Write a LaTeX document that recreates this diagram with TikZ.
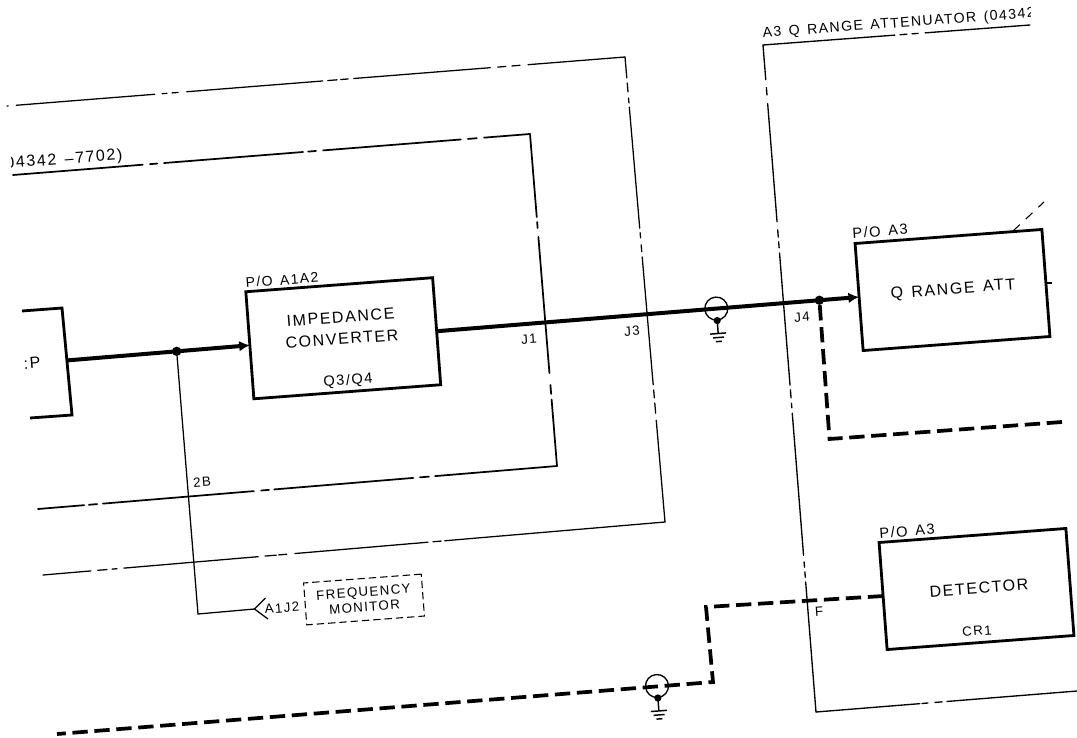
\documentclass[tikz,border=0pt]{standalone}
\usepackage{fontspec}
\setmainfont[LetterSpace=10,WordSpace=1.4]{Liberation Sans}
\usetikzlibrary{calc,arrows.meta}
\newcommand\phanside[4]{\foreach \ta/\tb in {#4}{\draw[#3] ($(#1)!\ta!(#2)$) -- ($(#1)!\tb!(#2)$);}}
\tikzset{
  x=0.75pt,y=-0.75pt,
  blockbox/.style={draw,line width=2.1pt,rotate=4.3,inner sep=0,outer sep=0,minimum width=140.5pt,minimum height=80.5pt},
  dashbox/.style={draw,line width=0.8pt,rotate=4.3,inner sep=0,outer sep=0,minimum width=88.5pt,minimum height=31.5pt,dash pattern=on 5.5pt off 3pt,align=center,font=\fontsize{10}{11.25}\selectfont},
  frameouter/.style={line width=0.95pt,line cap=round},
  frameinner/.style={line width=1.3pt,line cap=round},
  framethree/.style={line width=1pt,line cap=round},
  mainline/.style={line width=3pt},
  thinline/.style={line width=0.95pt},
  dashsig/.style={line width=2.8pt,dash pattern=on 11.5pt off 5pt},
  dotj/.style={fill,circle,inner sep=0,minimum size=7pt},
  biglab/.style={rotate=4.3,inner sep=0,font=\fontsize{12}{13}\selectfont},
  smalllab/.style={rotate=4.3,inner sep=0,font=\fontsize{11}{12}\selectfont},
  tinylab/.style={rotate=4.3,inner sep=0,font=\fontsize{10}{11}\selectfont},
  coax/.pic={
    \draw[line width=1pt] (0,0) circle (11.5);
    \fill (0,12) circle (3.6);
    \draw[line width=1.1pt] (0,12) -- (0,25);
    \draw[line width=1.1pt] (-8,25) -- (8,25) (-5.5,29) -- (5.5,29) (-3,33) -- (3,33);
  }
}
\begin{document}
\begin{tikzpicture}
\useasboundingbox (0,0) rectangle (1077,738);
% frame corners
\coordinate (oa) at (7,106); \coordinate (ob) at (625,57); \coordinate (oc) at (665,522); \coordinate (od) at (43,575);
\coordinate (ia) at (13,175); \coordinate (ib) at (530,134); \coordinate (ic) at (557,466); \coordinate (id) at (38,509);
\coordinate (ta) at (1030,25); \coordinate (tb) at (763,45); \coordinate (tc) at (816,712); \coordinate (td) at (1077,691);
% outer frame
\phanside{oa}{ob}{frameouter}{0/.002,.015/.239,.251/.259,.267/.277,.291/.511,.519/.534,.540/.552,.561/.782,.794/.807,.817/.830,.843/1}
\phanside{ob}{oc}{frameouter}{0/.045,.056/.075,.088/.099,.108/.368,.378/.389,.404/.419,.430/.705,.716/.733,.744/.766,.781/1}
\phanside{oc}{od}{frameouter}{0/.354,.360/.373,.381/.595,.608/.621,.625/.643,.654/.870,.881/.889,.897/.912,.923/1}
% inner frame
\phanside{ia}{ib}{frameinner}{0/.251,.265/.279,.292/.561,.571/.586,.600/.866,.880/.897,.911/1}
\phanside{ib}{ic}{frameinner}{0/.25,.265/.283,.31/.72,.756/.783,.80/1}
\phanside{ic}{id}{frameinner}{0/.235,.247/.264,.277/.545,.555/.570,.584/.875,.886/.902,.911/1}
% A3 frame
\phanside{tb}{ta}{framethree}{0/.494,.513/.539,.558/.581,.607/1}
\phanside{tb}{tc}{framethree}{0/.052,.064/.075,.088/.265,.277/.288,.295/.304,.312/.510,.517/.529,.537/.544,.552/.765,.775/.783,.790/.798,.805/1}
\phanside{tc}{td}{framethree}{0/.398,.406/.429,.456/.483,.502/1}
% blocks
\node[blockbox] (imp) at (343.25,338.25) {};
\node[blockbox] (qra) at (952.5,290) {};
\node[blockbox] (det) at (976.5,589) {};
\node[dashbox] (frq) at (364,599.5) {FREQUENCY\\MONITOR};
% clipped left block
\coordinate (pa) at (22,311); \coordinate (pb) at (62,308); \coordinate (pc) at (72,415); \coordinate (pd) at (30,418);
\draw[line width=2.1pt] (pa) -- (pb) -- (pc) -- (pd);
\coordinate (pout) at ($(pb)!.49!(pc)$);
% main signal
\draw[mainline,-{Latex[length=8pt,width=8pt]}] (pout) -- (imp.west);
\draw[mainline,-{Latex[length=8pt,width=8pt]}] (imp.east) -- (qra.west);
\coordinate (jmon) at ($(pout)!.60!(imp.west)$);
\coordinate (jfour) at ($(imp.east)!.906!(qra.west)$);
\coordinate (coaxa) at ($(imp.east)!.662!(qra.west)$);
\node[dotj] (dmon) at (jmon) {};
\node[dotj] (dfour) at (jfour) {};
\pic[rotate=4.3] at (coaxa) {coax};
% monitor branch
\coordinate (mcorner) at (198,614);
\coordinate (mtip) at (254.5,609);
\draw[thinline] (dmon) -- (mcorner) -- (mtip);
\draw[thinline] (265.5,598) -- (mtip) -- (268,619);
% dashed signals
\coordinate (qcorner) at (829.5,439);
\coordinate (qend) at (1062,422);
\draw[dashsig] (dfour) -- (qcorner) -- (qend);
\coordinate (lc1) at (706,607);
\coordinate (lc2) at (713,682);
\coordinate (lend) at (57,734);
\draw[dashsig] (det.west) -- (lc1) -- (lc2) -- (lend);
\pic[rotate=4.3] at (657,686) {coax};
% stubs
\coordinate (stuba) at (1013,231); \coordinate (stubb) at (1044,202);
\draw[line width=0.8pt,dash pattern=on 7pt off 6pt] (stuba) -- (stubb);
\coordinate (sra) at (1047,283); \coordinate (srb) at (1052,283);
\draw[line width=2pt] (sra) -- (srb);
% labels
\node[biglab] (t1) at (340.5,317) {IMPEDANCE};
\node[biglab] (t2) at (342,339) {CONVERTER};
\node[biglab] (t3) at (953,290) {Q RANGE ATT};
\node[biglab] (t4) at (979,588) {DETECTOR};
\node[smalllab,font=\fontsize{10.5}{12}\selectfont] (t5) at (282,280) {P/O A1A2};
\node[smalllab] (t6) at (348,381) {Q3/Q4};
\node[smalllab] (t7) at (880,231) {P/O A3};
\node[smalllab] (t8) at (907,531) {P/O A3};
\node[tinylab] (t9) at (977,631) {CR1};
\node[tinylab] (t10) at (529,339) {J1};
\node[tinylab] (t11) at (632,331) {J3};
\node[tinylab] (t12) at (802,317) {J4};
\node[tinylab] (t13) at (202,482) {2B};
\node[tinylab] (t14) at (819,612) {F};
\node[tinylab] (t15) at (282,608) {A1J2};
\node[biglab] (t18) at (32,363) {:P};
\begin{scope}
\clip (11,140) rectangle (140,180);
\node[smalllab,font=\fontsize{12}{13}\selectfont] (t19) at (64,160) {04342 --7702)};
\end{scope}
\begin{scope}
\clip (755,0) rectangle (1030,60);
\node[smalllab,font=\fontsize{10.6}{12}\selectfont,anchor=south west] (t20) at (763,41) {A3 Q RANGE ATTENUATOR (04342};
\end{scope}
\end{tikzpicture}
\end{document}
